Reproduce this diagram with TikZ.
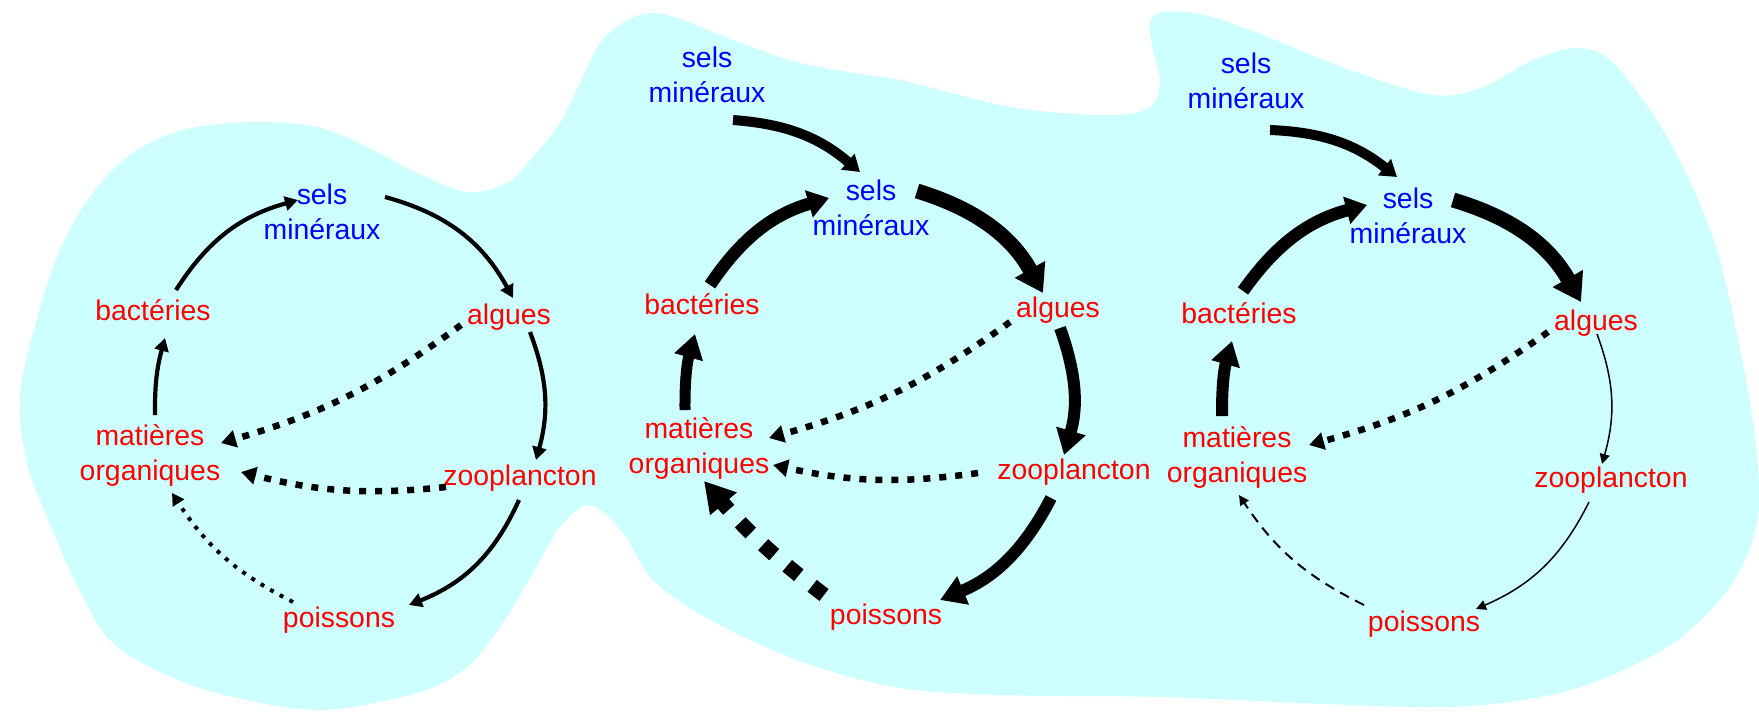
\documentclass[tikz,border=0pt]{standalone}
\usepackage{fontspec}
\setmainfont{Liberation Sans}
\usetikzlibrary{arrows.meta,calc}
\definecolor{eau}{RGB}{206,255,255}
\definecolor{txtred}{RGB}{255,0,0}
\definecolor{txtblue}{RGB}{0,0,255}
\begin{document}
\begin{tikzpicture}[x=0.5pt,y=-0.5pt,
  lab/.style={font=\fontsize{14.2pt}{17.5pt}\selectfont, inner sep=0pt, align=center},
  org/.style={lab, text=txtred},
  mine/.style={lab, text=txtblue},
  cyc/.style={line width=2.1pt, -{Triangle[length=6.5pt,width=7pt]}},
  sq/.style={line width=3.25pt, dash pattern=on 3.5pt off 4.5pt, -{Triangle[length=7.5pt,width=8.5pt]}},
  fd/.style={line width=2pt, dash pattern=on 2pt off 3.5pt, -{Triangle[length=6pt,width=6.5pt]}},
  big/.style n args={3}{line width=#1, -{Triangle[length=#2,width=#3]}},
  slim/.style={line width=0.75pt, -{Triangle[length=5pt,width=5pt]}},
  slimdash/.style={line width=1pt, dash pattern=on 5pt off 3.5pt, -{Triangle[length=5pt,width=5pt]}},
  fatdash/.style={line width=7.5pt, dash pattern=on 7.5pt off 8.5pt, -{Triangle[length=15pt,width=16.5pt]}}
]
\useasboundingbox (0,0) rectangle (1759,713);
\fill[eau] plot[smooth cycle, tension=0.55] coordinates {
 (217,693) (317,710) (417,693) (467,667) (500,627) (533,573) (560,527) (590,505)
 (623,533) (650,577) (690,608) (750,640) (817,667) (900,688) (1000,695) (1163,697)
 (1300,703) (1450,707) (1550,695) (1617,673) (1683,636) (1733,582) (1757,523)
 (1757,455) (1743,364) (1717,250) (1683,167) (1650,110) (1610,60) (1577,48)
 (1533,60) (1483,87) (1433,95) (1350,70) (1250,30) (1200,14) (1163,12)
 (1150,23) (1153,50) (1160,83) (1150,107) (1117,115) (1050,112) (1000,105)
 (900,80) (867,75) (800,63) (733,40) (683,20) (653,13) (627,20) (600,43) (580,83)
 (560,123) (533,157) (507,183) (467,192) (417,173) (367,147) (317,127) (250,122)
 (183,130) (133,153) (95,190) (62,245) (38,315) (20,395) (27,463) (50,524)
 (77,585) (107,637) (150,667)};

% ---------- panel 1
\node[mine] (S1) at (322,212) {sels\\minéraux};
\node[org] (B1) at (153,310) {bactéries};
\node[org] (A1) at (509,317) {algues};
\node[org] (M1) at (150,455) {matières\\organiques};
\node[org] (Z1) at (520,478) {zooplancton};
\node[org] (P1) at (339,620) {poissons};
\draw[cyc] ($(B1)+(23,-20)$) to[bend left=21] ($(S1)+(-24,-12)$);
\draw[cyc] ($(S1)+(63,-15)$) to[bend left=23] ($(A1)+(4,-19)$);
\draw[cyc] ($(A1)+(21,15)$) to[bend left=18] ($(Z1)+(16,-18)$);
\draw[cyc] ($(Z1)+(-1,22)$) to[bend left=22] ($(P1)+(70,-15)$);
\draw[fd] ($(P1)+(-46,-18)$) to[bend left=15] ($(M1)+(22,38)$);
\draw[cyc] ($(M1)+(5,-40)$) to[bend left=8] ($(B1)+(12,28)$);
\draw[sq] ($(A1)+(-48,8)$) to[bend left=10] ($(M1)+(71,-12)$);
\draw[sq] ($(Z1)+(-74,9)$) to[bend left=10] ($(M1)+(91,17)$);

% ---------- panel 2
\node[mine] (T2) at (707,75) {sels\\minéraux};
\node[mine] (S2) at (871,208) {sels\\minéraux};
\node[org] (B2) at (702,304) {bactéries};
\node[org] (A2) at (1058,310) {algues};
\node[org] (M2) at (699,448) {matières\\organiques};
\node[org] (Z2) at (1074,472) {zooplancton};
\node[org] (P2) at (886,617) {poissons};
\draw[big={5pt}{8pt}{10pt}] ($(T2)+(26,45)$) to[bend left=18] ($(S2)+(-11,-36)$);
\draw[big={6.25pt}{10.5pt}{13.5pt}] ($(B2)+(8,-19)$) to[bend left=20] ($(S2)+(-42,-10)$);
\draw[big={7.5pt}{13.5pt}{16.5pt}] ($(S2)+(46,-17)$) to[bend left=22] ($(A2)+(-15,-17)$);
\draw[big={6pt}{12.5pt}{14.5pt}] ($(A2)+(2,18)$) to[bend left=18] ($(Z2)+(-10,-17)$);
\draw[big={6pt}{12.5pt}{14.5pt}] ($(Z2)+(-23,26)$) to[bend left=20] ($(P2)+(54,-17)$);
\draw[fatdash] ($(P2)+(-62,-22)$) to[bend left=6] ($(M2)+(5,33)$);
\draw[big={5.5pt}{12pt}{14pt}] ($(M2)+(-14,-38)$) to[bend left=8] ($(B2)+(-7,30)$);
\draw[sq] ($(A2)+(-48,12)$) to[bend left=10] ($(M2)+(70,-10)$);
\draw[sq] ($(Z2)+(-96,1)$) to[bend left=10] ($(M2)+(74,17)$);

% ---------- panel 3
\node[mine] (T3) at (1246,81) {sels\\minéraux};
\node[mine] (S3) at (1408,216) {sels\\minéraux};
\node[org] (B3) at (1239,313) {bactéries};
\node[org] (A3) at (1596,323) {algues};
\node[org] (M3) at (1237,457) {matières\\organiques};
\node[org] (Z3) at (1611,480) {zooplancton};
\node[org] (P3) at (1424,624) {poissons};
\draw[big={5pt}{8pt}{10pt}] ($(T3)+(24,49)$) to[bend left=18] ($(S3)+(-11,-39)$);
\draw[big={6.25pt}{10.5pt}{13.5pt}] ($(B3)+(4,-22)$) to[bend left=20] ($(S3)+(-41,-11)$);
\draw[big={7.5pt}{13.5pt}{16.5pt}] ($(S3)+(45,-16)$) to[bend left=22] ($(A3)+(-15,-21)$);
\draw[slim] ($(A3)+(1,11)$) to[bend left=18] ($(Z3)+(-9,-16)$);
\draw[slim] ($(Z3)+(-22,22)$) to[bend left=20] ($(P3)+(52,-15)$);
\draw[slimdash] ($(P3)+(-60,-19)$) to[bend left=15] ($(M3)+(2,38)$);
\draw[big={6pt}{12pt}{14pt}] ($(M3)+(-15,-41)$) to[bend left=8] ($(B3)+(-7,28)$);
\draw[sq] ($(A3)+(-48,9)$) to[bend left=10] ($(M3)+(72,-12)$);
\end{tikzpicture}
\end{document}
